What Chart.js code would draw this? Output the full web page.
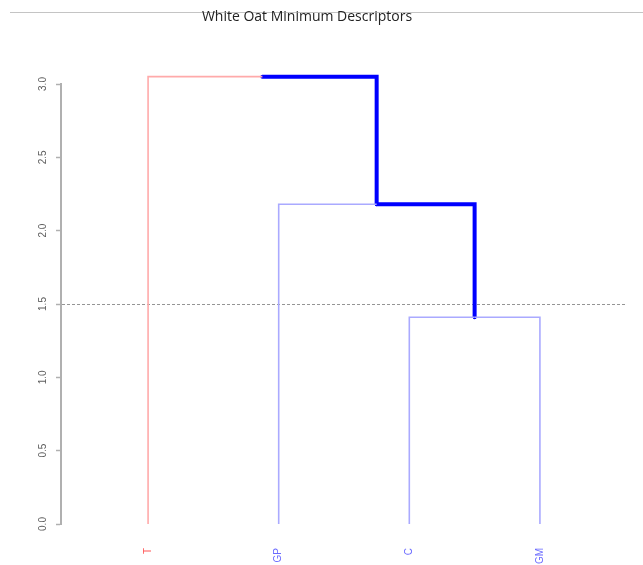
<!DOCTYPE html>
<html>
<head>
<meta charset="utf-8">
<title>White Oat Minimum Descriptors</title>
<script src="https://cdn.jsdelivr.net/npm/chart.js@4/dist/chart.umd.min.js"></script>
<style>
  html, body { margin: 0; padding: 0; background: #ffffff; }
  #wrap { width: 643px; height: 565px; }
</style>
</head>
<body>
<div id="wrap"><canvas id="dendro" width="643" height="565"></canvas></div>
<script>
// Leaves in dendrogram order
const leafLabels = ['T', 'GP', 'C', 'GM'];
const leafGroup = [0, 1, 1, 1];
// Merge table (negative = leaf number, positive = earlier merge step)
const mergePairs = [[-3, -4], [-2, 1], [-1, 2]];
const mergeHeights = [1.41, 2.18, 3.05];
// Cut height for the groups
const cutHeight = 1.5;
const yTickStep = 0.5;
const chartTitle = 'White Oat Minimum Descriptors';

const groupLine = ['#ffaaaa', '#aaaaff'];
const groupText = ['#ff5a5a', '#6b6bff'];
const trunkColor = '#0000ff';

// Resolve node positions: leaves sit at 1..n, merges at the mean of their children
function nodeX(ref) {
  return ref < 0 ? -ref : mergeX[ref - 1];
}
function nodeH(ref) {
  return ref < 0 ? 0 : mergeHeights[ref - 1];
}
const mergeX = [];
mergePairs.forEach((pair) => {
  mergeX.push((nodeX(pair[0]) + nodeX(pair[1])) / 2);
});

// Each edge: from parent height across to the child, then down to the child height
const thinEdges = [];
const thickEdges = [];
mergePairs.forEach((pair, i) => {
  const px = mergeX[i];
  const ph = mergeHeights[i];
  pair.forEach((child) => {
    const cx = nodeX(child);
    const pts = [{ x: px, y: ph }, { x: cx, y: ph }, { x: cx, y: nodeH(child) }];
    if (child < 0) {
      thinEdges.push({ pts, color: groupLine[leafGroup[-child - 1]] });
    } else {
      thickEdges.push({ pts, color: trunkColor });
    }
  });
});

const datasets = [];
thinEdges.forEach((e) => datasets.push({
  data: e.pts, borderColor: e.color, borderWidth: 1.6, showLine: true,
  pointRadius: 0, tension: 0, clip: false, borderCapStyle: 'butt', borderJoinStyle: 'miter'
}));
thickEdges.forEach((e) => datasets.push({
  data: e.pts, borderColor: e.color, borderWidth: 4, showLine: true,
  pointRadius: 0, tension: 0, clip: false, borderCapStyle: 'round', borderJoinStyle: 'miter'
}));

const decorations = {
  id: 'decorations',
  beforeDatasetsDraw(chart) {
    const { ctx, chartArea, scales } = chart;
    const y = Math.round(scales.y.getPixelForValue(cutHeight)) + 0.5;
    ctx.save();
    ctx.strokeStyle = '#959595';
    ctx.lineWidth = 1;
    ctx.setLineDash([3, 2]);
    ctx.beginPath();
    ctx.moveTo(chartArea.left + 1, y);
    ctx.lineTo(chartArea.right, y);
    ctx.stroke();
    ctx.restore();
  },
  afterDraw(chart) {
    const { ctx, scales } = chart;
    ctx.save();
    // top rule and title
    ctx.strokeStyle = '#c4c4c4';
    ctx.lineWidth = 1;
    ctx.beginPath();
    ctx.moveTo(10, 12.5);
    ctx.lineTo(643, 12.5);
    ctx.stroke();
    ctx.fillStyle = '#222222';
    ctx.font = '14px "Open Sans", "DejaVu Sans", sans-serif';
    ctx.textAlign = 'center';
    ctx.textBaseline = 'middle';
    ctx.fillText(chartTitle, 307, 17);

    // y tick labels, rotated
    ctx.fillStyle = '#5e5e5e';
    ctx.font = '10px "Liberation Sans", Arial, sans-serif';
    scales.y.ticks.forEach((t) => {
      const py = scales.y.getPixelForValue(t.value);
      ctx.save();
      ctx.translate(43, py);
      ctx.rotate(-Math.PI / 2);
      ctx.textAlign = 'center';
      ctx.textBaseline = 'middle';
      ctx.fillText(t.value.toFixed(1), 0, 0);
      ctx.restore();
    });

    // leaf labels, rotated
    ctx.font = '10px "Liberation Sans", Arial, sans-serif';
    leafLabels.forEach((lab, i) => {
      const px = scales.x.getPixelForValue(i + 1);
      ctx.save();
      ctx.translate(px, 548);
      ctx.rotate(-Math.PI / 2);
      ctx.textAlign = 'right';
      ctx.textBaseline = 'middle';
      ctx.fillStyle = groupText[leafGroup[i]];
      ctx.fillText(lab, 0, 0);
      ctx.restore();
    });
    ctx.restore();
  }
};

new Chart(document.getElementById('dendro'), {
  type: 'scatter',
  data: { datasets },
  options: {
    responsive: false,
    animation: false,
    layout: { padding: { top: 84, bottom: 41, left: 0, right: 16 } },
    plugins: { legend: { display: false }, tooltip: { enabled: false }, title: { display: false } },
    scales: {
      x: { type: 'linear', min: 1 / 3, max: 14 / 3, display: false },
      y: {
        type: 'linear', min: 0, max: 3,
        ticks: { display: false, stepSize: yTickStep },
        grid: { drawOnChartArea: false, drawTicks: true, tickLength: 5, color: '#b0b0b0', tickWidth: 1.5 },
        border: { display: true, color: '#b0b0b0', width: 2 },
        afterFit(scale) { scale.width = 61; }
      }
    }
  },
  plugins: [decorations]
});
</script>
</body>
</html>
